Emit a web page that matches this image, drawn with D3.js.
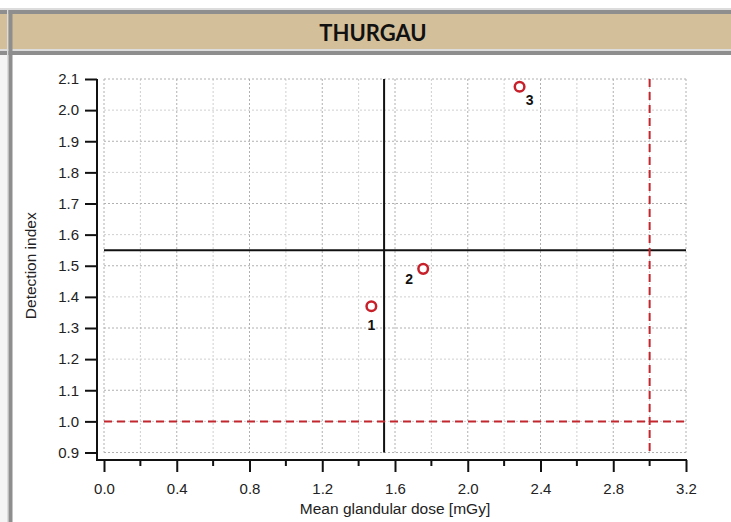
<!DOCTYPE html>
<html>
<head>
<meta charset="utf-8">
<script src="https://cdn.jsdelivr.net/npm/d3@7/dist/d3.min.js"></script>
<style>
  html, body { margin: 0; padding: 0; background: #fff; }
  svg { display: block; }
</style>
</head>
<body>
<svg id="chart" width="731" height="522"></svg>
<script>
// Measured points: mean glandular dose vs detection index
const pointIds = ["1", "2", "3"];
const doseValues = [1.47, 1.755, 2.285];
const detectionValues = [1.37, 1.49, 2.075];

// Reference thresholds
const doseMeanLine = 1.54;
const detectionMeanLine = 1.55;
const doseLimit = 3.0;
const detectionLimit = 1.0;

// Axis ticks
const xTickLabels = [0.0, 0.4, 0.8, 1.2, 1.6, 2.0, 2.4, 2.8, 3.2];
const xMinorTicks = [0.2, 0.6, 1.0, 1.4, 1.8, 2.2, 2.6, 3.0];
const yTickLabels = [0.9, 1.0, 1.1, 1.2, 1.3, 1.4, 1.5, 1.6, 1.7, 1.8, 1.9, 2.0, 2.1];
const xGridValues = [0, 0.2, 0.4, 0.6, 0.8, 1.0, 1.2, 1.4, 1.6, 1.8, 2.0, 2.2, 2.4, 2.6, 2.8, 3.0, 3.2];

const svg = d3.select("#chart");
const W = 731, H = 522;

// Page frame with header band
svg.append("rect").attr("x", 0).attr("y", 0).attr("width", W).attr("height", H).attr("fill", "#fff");
svg.append("rect").attr("x", 0).attr("y", 8).attr("width", W).attr("height", 2).attr("fill", "#dcdcdc");
svg.append("rect").attr("x", 0).attr("y", 10).attr("width", W).attr("height", 4).attr("fill", "#8e8e8e");
svg.append("rect").attr("x", 0).attr("y", 14).attr("width", W).attr("height", 35).attr("fill", "#d3bf99");
svg.append("rect").attr("x", 0).attr("y", 49).attr("width", W).attr("height", 2).attr("fill", "#dcdcdc");
svg.append("rect").attr("x", 0).attr("y", 51).attr("width", W).attr("height", 4).attr("fill", "#8e8e8e");
svg.append("rect").attr("x", 7).attr("y", 10).attr("width", 1.5).attr("height", H).attr("fill", "#dcdcdc");
svg.append("rect").attr("x", 8.5).attr("y", 10).attr("width", 4).attr("height", H).attr("fill", "#8e8e8e");
svg.append("rect").attr("x", 0).attr("y", 55).attr("width", 7).attr("height", H - 55).attr("fill", "#f4f4f4");

svg.append("text")
  .attr("x", 373).attr("y", 41)
  .attr("text-anchor", "middle")
  .attr("font-family", "Lato, 'Open Sans', sans-serif")
  .attr("font-weight", "bold")
  .attr("font-size", 22)
  .attr("fill", "#111")
  .text("THURGAU");

// Scales
const x = d3.scaleLinear().domain([0, 3.2]).range([104, 686]);
const y = d3.scaleLinear().domain([0.9, 2.1]).range([452.5, 79]);

const axisLeftX = 97;
const axisBottomY = 460;
const font = "'Liberation Sans', Arial, sans-serif";

// Grid
const grid = svg.append("g");
grid.selectAll("line.v").data(xGridValues).join("line")
  .attr("x1", d => x(d)).attr("x2", d => x(d))
  .attr("y1", y(2.1)).attr("y2", y(0.9))
  .attr("stroke", d => (Math.round(d * 10) % 4 === 0) ? "#b0b0b0" : "#cfcfcf")
  .attr("stroke-width", 1)
  .attr("stroke-dasharray", "2,2");
grid.selectAll("line.h").data(yTickLabels).join("line")
  .attr("x1", x(0)).attr("x2", x(3.2))
  .attr("y1", d => y(d)).attr("y2", d => y(d))
  .attr("stroke", (d, i) => i % 2 === 0 ? "#b0b0b0" : "#cfcfcf")
  .attr("stroke-width", 1)
  .attr("stroke-dasharray", "2,2");

// Reference lines
svg.append("line")
  .attr("x1", x(doseMeanLine)).attr("x2", x(doseMeanLine))
  .attr("y1", y(2.1)).attr("y2", y(0.9))
  .attr("stroke", "#111").attr("stroke-width", 2);
svg.append("line")
  .attr("x1", x(0)).attr("x2", x(3.2))
  .attr("y1", y(detectionMeanLine)).attr("y2", y(detectionMeanLine))
  .attr("stroke", "#111").attr("stroke-width", 2);
svg.append("line")
  .attr("x1", x(0)).attr("x2", x(3.2))
  .attr("y1", y(detectionLimit)).attr("y2", y(detectionLimit))
  .attr("stroke", "#c3272e").attr("stroke-width", 2)
  .attr("stroke-dasharray", "8,5");
svg.append("line")
  .attr("x1", x(doseLimit)).attr("x2", x(doseLimit))
  .attr("y1", y(2.1)).attr("y2", y(0.9))
  .attr("stroke", "#c3272e").attr("stroke-width", 2)
  .attr("stroke-dasharray", "8,5");

// Y axis
const yAxis = d3.axisLeft(y).tickValues(yTickLabels).tickFormat(d3.format(".1f")).tickSize(12).tickPadding(6);
const gy = svg.append("g").attr("transform", `translate(${axisLeftX},0)`).call(yAxis);
gy.select(".domain").remove();
gy.append("line").attr("x1", 0).attr("x2", 0).attr("y1", y(2.1)).attr("y2", axisBottomY + 1)
  .attr("stroke", "#111").attr("stroke-width", 2);
gy.selectAll(".tick line").attr("stroke", "#111").attr("stroke-width", 2);
gy.selectAll(".tick text").attr("font-family", font).attr("font-size", 15).attr("fill", "#222");

// X axis
const xAxis = d3.axisBottom(x).tickValues(xTickLabels).tickFormat(d3.format(".1f")).tickSize(12).tickPadding(11);
const gx = svg.append("g").attr("transform", `translate(0,${axisBottomY})`).call(xAxis);
gx.select(".domain").remove();
gx.append("line").attr("x1", axisLeftX - 1).attr("x2", x(3.2) + 1).attr("y1", 0).attr("y2", 0)
  .attr("stroke", "#111").attr("stroke-width", 2);
gx.selectAll(".tick line").attr("stroke", "#111").attr("stroke-width", 2);
gx.selectAll(".tick text").attr("font-family", font).attr("font-size", 15).attr("fill", "#222");
gx.selectAll("line.minor").data(xMinorTicks).join("line")
  .attr("class", "minor")
  .attr("x1", d => x(d)).attr("x2", d => x(d))
  .attr("y1", 0).attr("y2", 6)
  .attr("stroke", "#111").attr("stroke-width", 2);

// Axis titles
svg.append("text")
  .attr("x", x(1.6)).attr("y", 514)
  .attr("text-anchor", "middle")
  .attr("font-family", font).attr("font-size", 15.5).attr("fill", "#222")
  .text("Mean glandular dose [mGy]");
svg.append("text")
  .attr("transform", `translate(36,${(y(2.1) + y(0.9)) / 2}) rotate(-90)`)
  .attr("text-anchor", "middle")
  .attr("font-family", font).attr("font-size", 15.5).attr("fill", "#222")
  .text("Detection index");

// Points
const pts = pointIds.map((id, i) => ({ id, dose: doseValues[i], det: detectionValues[i] }));
svg.append("g").selectAll("circle").data(pts).join("circle")
  .attr("cx", d => x(d.dose)).attr("cy", d => y(d.det))
  .attr("r", 4.8)
  .attr("fill", "#fff")
  .attr("stroke", "#c8202a")
  .attr("stroke-width", 2.5);

// Point labels
const labelOffsets = { "1": [0, 24], "2": [-14, 15], "3": [10, 18] };
svg.append("g").selectAll("text").data(pts).join("text")
  .attr("x", d => x(d.dose) + labelOffsets[d.id][0])
  .attr("y", d => y(d.det) + labelOffsets[d.id][1])
  .attr("text-anchor", "middle")
  .attr("font-family", font).attr("font-weight", "bold").attr("font-size", 14).attr("fill", "#111")
  .text(d => d.id);
</script>
</body>
</html>
